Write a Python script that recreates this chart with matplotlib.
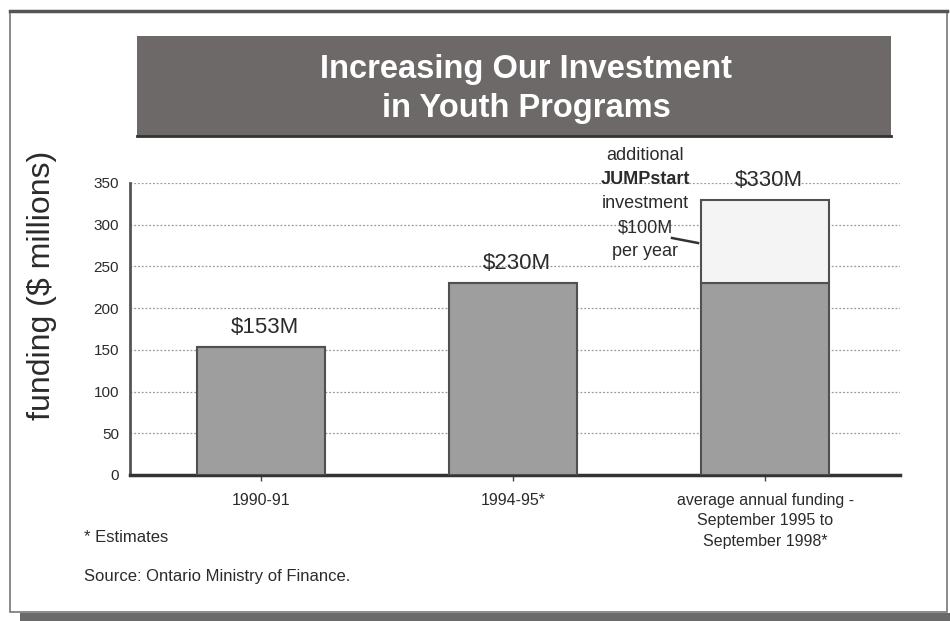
import matplotlib.pyplot as plt
from matplotlib.patches import Rectangle

# data
categories = ["1990-91", "1994-95*",
              "average annual funding -\nSeptember 1995 to\nSeptember 1998*"]
base_funding = [153, 230, 230]
jumpstart = [0, 0, 100]
value_labels = ["$153M", "$230M", "$330M"]
y_ticks = [0, 50, 100, 150, 200, 250, 300, 350]

W, H = 950, 621
FONT = ["Liberation Sans", "DejaVu Sans"]
TXT = "#2b2b2b"


def fx(px):
    return px / W


def fy(py):
    return 1 - py / H


fig = plt.figure(figsize=(9.5, 6.21), dpi=100)
fig.patch.set_facecolor("white")

# outer frame + shadow
fig.patches.append(Rectangle((fx(20), fy(621)), fx(930), 8 / H, transform=fig.transFigure,
                             facecolor="#6a6a6a", edgecolor="none", zorder=0))
fig.patches.append(Rectangle((fx(10), fy(612)), fx(937), 601 / H, transform=fig.transFigure,
                             facecolor="white", edgecolor="#777777", linewidth=1.2, zorder=1))
fig.add_artist(plt.Line2D([fx(10), fx(947)], [fy(11), fy(11)], transform=fig.transFigure,
                          color="#555555", linewidth=2.5, zorder=2))

# title box
fig.patches.append(Rectangle((fx(137), fy(136)), fx(754), 100 / H, transform=fig.transFigure,
                             facecolor="#6d6969", edgecolor="none", zorder=2))
fig.add_artist(plt.Line2D([fx(137), fx(891)], [fy(136), fy(136)], transform=fig.transFigure,
                          color="#333333", linewidth=2, zorder=3))
fig.text(fx(526), fy(89), "Increasing Our Investment\nin Youth Programs", color="white",
         fontsize=23.5, fontweight="bold", family=FONT, ha="center", va="center",
         linespacing=1.3, zorder=4)

ax = fig.add_axes([fx(130), fy(475), fx(770), 292 / H])
ax.set_zorder(3)
ax.patch.set_alpha(0)

x = range(len(categories))
ax.bar(x, base_funding, width=0.51, color="#9e9e9e", edgecolor="#505050", linewidth=1.5, zorder=3)
ax.bar(x, jumpstart, width=0.51, bottom=base_funding, color="#f4f4f4",
       edgecolor="#505050", linewidth=1.5, zorder=3)

totals = [b + j for b, j in zip(base_funding, jumpstart)]
for i, (t, lab) in enumerate(zip(totals, value_labels)):
    ax.annotate(lab, (i, t), xytext=(3, 14), textcoords="offset points", ha="center",
                va="center", fontsize=16, color=TXT, family=FONT, annotation_clip=False)

ax.set_xlim(-0.52, 2.535)
ax.set_ylim(0, 350)
ax.set_yticks(y_ticks)
ax.set_xticks(list(x))
ax.set_xticklabels(categories, family=FONT, fontsize=11.5, color=TXT, linespacing=1.45,
                   va="top")
for t in ax.get_yticklabels():
    t.set_family(FONT)
    t.set_fontsize(11)
    t.set_color(TXT)
ax.tick_params(axis="y", length=0, pad=8)
ax.tick_params(axis="x", length=4, width=1, color="#444444", direction="out", pad=9)
ax.grid(axis="y", linestyle=(0, (1.5, 1.5)), color="#9a9a9a", linewidth=0.9, zorder=0)
for s in ["top", "right"]:
    ax.spines[s].set_visible(False)
ax.spines["left"].set_color("#555555")
ax.spines["left"].set_linewidth(2)
ax.spines["bottom"].set_color("#333333")
ax.spines["bottom"].set_linewidth(2.5)

# JUMPstart note
note = [("additional", "normal"), ("JUMPstart", "bold"), ("investment", "normal"),
        ("$100M", "normal"), ("per year", "normal")]
for k, (line, wt) in enumerate(note):
    fig.text(fx(645), fy(156 + 24 * k), line, ha="center", va="center", fontsize=13,
             fontweight=wt, color=TXT, family=FONT)
fig.add_artist(plt.Line2D([fx(672), fx(698)], [fy(238), fy(243)], transform=fig.transFigure,
                          color="#333333", linewidth=1.8, zorder=5))

fig.text(fx(42), fy(285), "funding ($ millions)", rotation=90, ha="center", va="center",
         fontsize=23, color=TXT, family=FONT)
fig.text(fx(84), fy(538), "* Estimates", fontsize=12, color=TXT, family=FONT, va="center")
fig.text(fx(84), fy(576), "Source: Ontario Ministry of Finance.", fontsize=12, color=TXT,
         family=FONT, va="center")

fig.savefig("out.png", dpi=100)
